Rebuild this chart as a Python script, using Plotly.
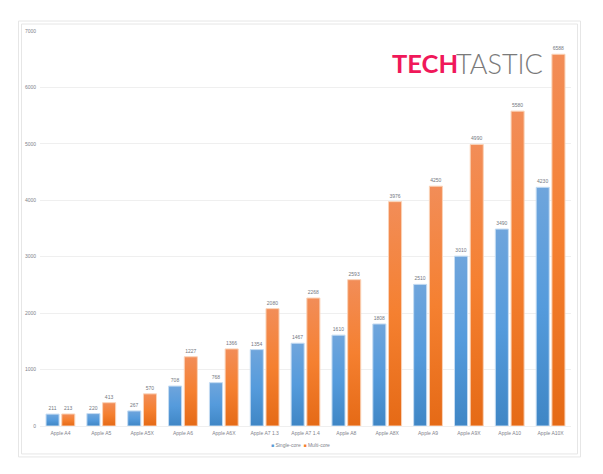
import plotly.graph_objects as go

categories = ["Apple A4", "Apple A5", "Apple A5X", "Apple A6", "Apple A6X", "Apple A7 1.3", "Apple A7 1.4",
              "Apple A8", "Apple A8X", "Apple A9", "Apple A9X", "Apple A10", "Apple A10X"]
single_core = [211, 220, 267, 708, 768, 1354, 1467, 1610, 1808, 2510, 3010, 3490, 4230]
multi_core = [213, 413, 570, 1227, 1366, 2080, 2268, 2593, 3976, 4250, 4990, 5580, 6588]

W, H = 603, 474
L, R, T, B = 40, 571.5, 30.5, 426
TICK = "#7f838c"
LABEL = "#74787f"
FONT = "Liberation Sans"


def px(x):
    return (x - L) / (R - L)


def py(y):
    return (B - y) / (B - T)


fig = go.Figure()
fig.add_bar(name="Single-core", x=categories, y=single_core, text=single_core,
            marker=dict(color="#5B9BD5", line=dict(color="#C5DCF2", width=1)))
fig.add_bar(name="Multi-core", x=categories, y=multi_core, text=multi_core,
            marker=dict(color="#F58030", line=dict(color="#FAD3B8", width=1)))
fig.update_traces(textposition="outside", textangle=0, cliponaxis=False, constraintext="none",
                  textfont=dict(size=5, color=LABEL, family=FONT))

frames = [(18.5, 20.5, 581, 457), (21.5, 23.5, 578, 454)]
shapes = [dict(type="rect", xref="paper", yref="paper", x0=px(a), x1=px(c), y0=py(d), y1=py(b),
               line=dict(color="#E6E6E6", width=1), fillcolor="rgba(0,0,0,0)", layer="below")
          for a, b, c, d in frames]

annotations = [
    dict(text="<b>TECH</b>", x=px(460.5), y=py(63), xref="paper", yref="paper", xanchor="right", yanchor="middle",
         showarrow=False, font=dict(family="Lato", size=25.5, color="#F0185A")),
    dict(text="TASTIC", x=px(454), y=py(63), xref="paper", yref="paper", xanchor="left", yanchor="middle",
         showarrow=False, font=dict(family="Lato", size=27, color="#7A7A7A", weight=300)),
    dict(text="<span style='color:#5B9BD5'>■</span> Single-core  <span style='color:#F58030'>■</span> Multi-core",
         x=px(301), y=py(445), xref="paper", yref="paper", xanchor="center", yanchor="middle",
         showarrow=False, font=dict(family=FONT, size=5, color=TICK)),
]

fig.update_layout(
    width=W, height=H, margin=dict(l=L, r=W - R, t=T, b=H - B),
    paper_bgcolor="white", plot_bgcolor="white", showlegend=False,
    barmode="group", bargap=0.23, bargroupgap=0.17,
    shapes=shapes, annotations=annotations,
    font=dict(family=FONT, size=5, color=TICK),
    xaxis=dict(showgrid=False, showline=False, ticks="", ticklabelstandoff=3,
               tickfont=dict(size=5, color=TICK), tickangle=0),
    yaxis=dict(range=[0, 7000], dtick=1000, gridcolor="#EFEFEF", gridwidth=1, zeroline=True,
               zerolinecolor="#EFEFEF", zerolinewidth=1, showline=False, ticks="", ticklabelstandoff=3,
               tickfont=dict(size=5, color=TICK)),
)

post = """
document.body.style.margin = '0';
document.documentElement.style.overflow = 'hidden';
var gd = document.getElementById('{plot_id}');
var svg = gd.querySelector('.main-svg');
var ns = 'http://www.w3.org/2000/svg';
var defs = document.createElementNS(ns, 'defs');
function grad(id, stops) {
  var g = document.createElementNS(ns, 'linearGradient');
  g.setAttribute('id', id);
  g.setAttribute('x1', '0'); g.setAttribute('y1', '0');
  g.setAttribute('x2', '0'); g.setAttribute('y2', '1');
  stops.forEach(function (s) {
    var st = document.createElementNS(ns, 'stop');
    st.setAttribute('offset', s[0]); st.setAttribute('stop-color', s[1]);
    g.appendChild(st);
  });
  defs.appendChild(g);
}
grad('gradA', [[0, '#6FA5DC'], [0.5, '#559BDC'], [1, '#3F86C5']]);
grad('gradB', [[0, '#F28D58'], [0.5, '#F58030'], [1, '#E56A16']]);
svg.appendChild(defs);
gd.querySelectorAll('.barlayer .trace').forEach(function (t, i) {
  t.querySelectorAll('.point path').forEach(function (p) {
    p.style.fill = 'url(#' + (i === 0 ? 'gradA' : 'gradB') + ')';
  });
});
"""
fig.write_html("out.html", post_script=post, config={"displayModeBar": False})
